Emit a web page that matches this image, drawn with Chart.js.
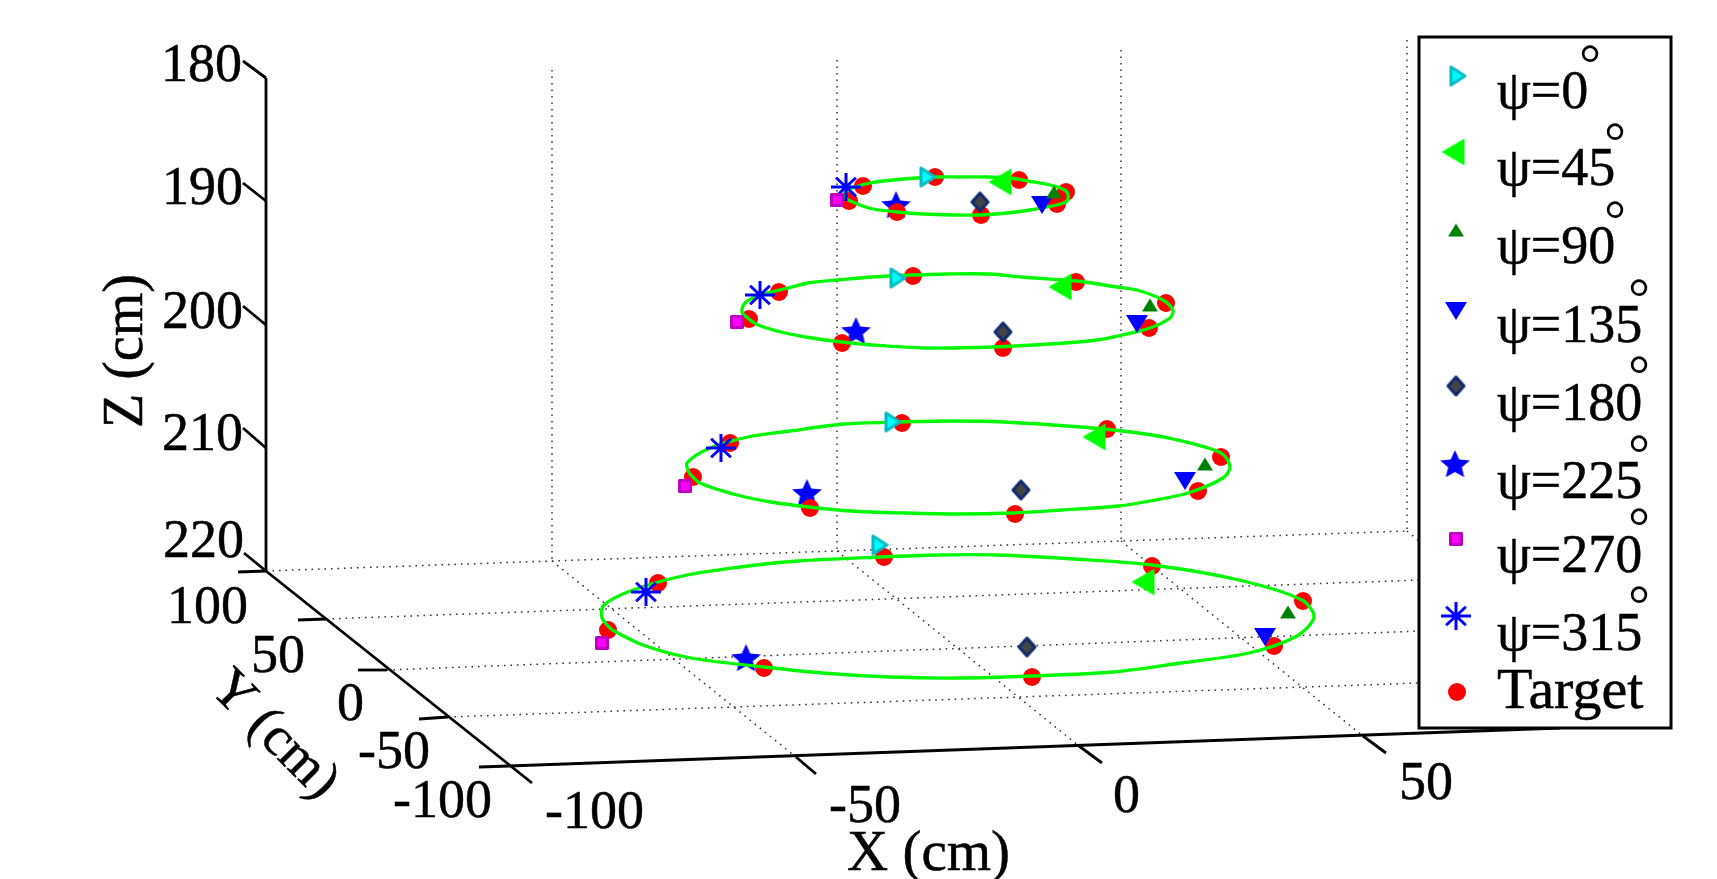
<!DOCTYPE html>
<html>
<head>
<meta charset="utf-8">
<title>Target positions</title>
<style>
  html, body { margin: 0; padding: 0; background: #fff; }
  canvas { display: block; }
</style>
<script src="https://cdn.jsdelivr.net/npm/chart.js@4"></script>
</head>
<body>
<canvas id="my" width="1717" height="879"></canvas>
<script>
// the figure is a 3D view flattened to a plane, so everything is read as [h, v] on that plane
const psi0   = [[928,177],[898,278],[893,422],[880,545]];
const psi45  = [[1000,182],[1060,287],[1094,437],[1143,582]];
const psi90  = [[1054,192],[1150,305],[1205,464],[1288,612]];
const psi135 = [[1042,205],[1137,324],[1185,481],[1265,637]];
const psi180 = [[980,202],[1003,332],[1021,490],[1027,647]];
const psi225 = [[896,205],[856,331],[807,493],[746,658]];
const psi270 = [[837,200],[737,322],[685,486],[602,643]];
const psi315 = [[846,187],[760,295],[721,448],[646,592]];
const target = [
  [863,186],[849,201],[897,212],[935,177],[981,215],[1019,180],[1066,192],[1057,204],
  [779,292],[749,319],[842,343],[913,276],[1003,348],[1076,282],[1166,303],[1149,328],
  [730,443],[693,477],[810,508],[902,423],[1015,514],[1107,429],[1221,457],[1198,491],
  [658,583],[608,630],[764,668],[884,557],[1032,677],[1152,566],[1303,601],[1274,646]
];

const ring190 = [[848,200],[860,205],[873,209],[897,212],[923,214],[953,215],[980,215],[1007,213],[1030,210],[1057,205],[1067,201],[1068,195],[1065,190],[1050,185],[1028,181],[1010,178],[987,177],[960,177],[937,177],[917,178],[893,180],[870,183],[855,187],[845,192],[845,197],[848,200]];
const ring200 = [[750,320],[758,325],[785,333],[812,338],[842,342],[872,345],[925,348],[993,347],[1050,344],[1097,340],[1122,335],[1150,328],[1170,318],[1173,310],[1163,300],[1137,290],[1117,287],[1077,281],[1020,277],[990,274],[947,274],[913,275],[872,277],[838,280],[808,283],[788,288],[760,295],[745,303],[742,312],[750,320]];
const ring210 = [[689,473],[700,483],[737,495],[771,502],[809,507],[851,511],[905,513],[959,514],[1012,513],[1062,510],[1119,506],[1150,501],[1188,493],[1223,478],[1230,467],[1221,453],[1173,439],[1131,432],[1081,427],[1004,422],[951,421],[897,422],[844,424],[790,431],[748,437],[710,448],[687,463],[689,473]];
const ring220 = [[612,630],[643,645],[691,658],[764,667],[822,673],[890,677],[958,678],[1031,676],[1113,672],[1181,663],[1249,653],[1297,636],[1314,617],[1302,600],[1239,580],[1152,565],[1074,559],[997,555],[939,555],[881,557],[798,561],[740,567],[687,575],[633,590],[604,605],[602,618],[612,630]];

const axisLines = [
  [[266,78],[266,571]], [[266,571],[532,783]], [[509,766],[1560,728]],
  [[243,61],[266,78]], [[243,183],[266,201]], [[243,306],[266,325]], [[243,428],[266,448]], [[244,553],[266,571]],
  [[238,572],[266,571]], [[298,620],[326,619]], [[358,670],[387,670]], [[419,719],[448,717]], [[479,767],[509,766]],
  [[796,757],[816,774]], [[1079,746],[1102,763]], [[1363,736],[1386,753]]
];
const gridLines = [
  [[552,70],[552,561]], [[837,60],[837,551]], [[1121,50],[1121,541]], [[1407,40],[1407,531]],
  [[266,571],[1407,531]], [[326,619],[1419,580]], [[387,670],[1419,631]], [[448,717],[1419,683]],
  [[552,561],[796,757]], [[837,551],[1079,746]], [[1121,541],[1363,736]], [[1407,531],[1419,541]]
];

const zTicks = ['180','190','200','210','220'];
const yTicks = ['100','50','0','-50','-100'];
const xTicks = ['-100','-50','0','50'];
const zTickAt = [[242,81],[243,204],[243,328],[243,450],[244,557]];
const yTickAt = [[248,623],[305,672],[364,720],[430,768],[492,817]];
const xTickAt = [[644,828],[901,822],[1140,812],[1453,799]];

const legendNames = ['ψ=0','ψ=45','ψ=90','ψ=135','ψ=180','ψ=225','ψ=270','ψ=315','Target'];
const legendRows = [108,185,263,342,420,498,572,650,708];
const legendKeys = [[1458,76],[1453,152],[1456,230],[1456,311],[1456,386],[1455,464],[1456,539],[1456,616],[1457,692]];
const degreeAt = [[1590,53],[1615,131],[1615,209],[1639,287],[1639,364],[1639,443],[1639,516],[1639,594]];

const serif = "'Liberation Serif', 'Times New Roman', serif";

// marker glyphs, the matlab ones are not the same shapes as chart.js has
function marker(w, h, fill, stroke, lw, pts) {
  const pad = 2;
  const c = document.createElement('canvas');
  c.width = w + pad * 2;
  c.height = h + pad * 2;
  const g = c.getContext('2d');
  g.beginPath();
  pts.forEach(function(p, i) {
    const px = pad + lw / 2 + p[0] * (w - lw);
    const py = pad + lw / 2 + p[1] * (h - lw);
    if (i == 0) g.moveTo(px, py); else g.lineTo(px, py);
  });
  g.closePath();
  g.fillStyle = fill;
  g.fill();
  if (stroke) {
    g.lineWidth = lw;
    g.lineJoin = 'round';
    g.strokeStyle = stroke;
    g.stroke();
  }
  return c;
}

function starPts() {
  const pts = [];
  for (let i = 0; i < 10; i++) {
    const r = i % 2 ? 0.25 : 0.54;
    const a = -Math.PI / 2 + i * Math.PI / 5;
    pts.push([0.5 + r * Math.cos(a), 0.54 + r * Math.sin(a)]);
  }
  return pts;
}

function asterisk(w, h, color, lw) {
  const c = document.createElement('canvas');
  c.width = w;
  c.height = h;
  const g = c.getContext('2d');
  g.strokeStyle = color;
  g.lineWidth = lw;
  g.beginPath();
  g.moveTo(w / 2, 0); g.lineTo(w / 2, h);
  g.moveTo(0, h / 2); g.lineTo(w, h / 2);
  g.moveTo(w * 0.17, h * 0.17); g.lineTo(w * 0.83, h * 0.83);
  g.moveTo(w * 0.83, h * 0.17); g.lineTo(w * 0.17, h * 0.83);
  g.stroke();
  return c;
}

const glyphs = [
  marker(17, 21, '#00ffff', '#00bcc4', 3, [[0,0],[1,0.5],[0,1]]),
  marker(23, 27, '#00ff00', null, 0, [[1,0],[0,0.5],[1,1]]),
  marker(16, 13, '#008000', null, 0, [[0.5,0],[1,1],[0,1]]),
  marker(22, 18, '#0000ff', null, 0, [[0,0],[1,0],[0.5,1]]),
  marker(19, 21, '#444444', '#0f2a6e', 3, [[0.5,0],[1,0.5],[0.5,1],[0,0.5]]),
  marker(29, 28, '#0000ff', null, 0, starPts()),
  marker(14, 14, '#ff00ff', '#c000c0', 3, [[0,0],[1,0],[1,1],[0,1]]),
  asterisk(30, 28, '#0000ff', 3)
];

function pts(list) {
  return list.map(function(p) { return {x: p[0], y: p[1]}; });
}

function lineSet(list, color, width, dash, order, tension) {
  return {
    data: pts(list), showLine: true, borderColor: color, borderWidth: width,
    borderDash: dash, pointRadius: 0, tension: tension || 0, order: order, clip: false
  };
}

function markSet(name, list, glyph, order) {
  return {
    label: name, data: pts(list), showLine: false, pointStyle: glyph,
    pointRadius: 10, order: order, clip: false
  };
}

const datasets = [];
gridLines.forEach(function(l) { datasets.push(lineSet(l, '#333', 1.5, [1.6, 4.9], 100)); });
axisLines.forEach(function(l) { datasets.push(lineSet(l, '#000', 2.8, [], 90)); });
datasets.push(markSet('ψ=225', psi225, glyphs[5], 60));
datasets.push({
  label: 'Target', data: pts(target), showLine: false, pointStyle: 'circle', pointRadius: 9,
  backgroundColor: '#ff0000', borderColor: '#ff0000', borderWidth: 0, order: 50, clip: false
});
[ring190, ring200, ring210, ring220].forEach(function(r) {
  datasets.push(lineSet(r, '#00f800', 3.3, [], 40, 0.3));
});
datasets.push(markSet('ψ=0', psi0, glyphs[0], 30));
datasets.push(markSet('ψ=45', psi45, glyphs[1], 30));
datasets.push(markSet('ψ=90', psi90, glyphs[2], 30));
datasets.push(markSet('ψ=135', psi135, glyphs[3], 30));
datasets.push(markSet('ψ=180', psi180, glyphs[4], 30));
datasets.push(markSet('ψ=270', psi270, glyphs[6], 30));
datasets.push(markSet('ψ=315', psi315, glyphs[7], 30));

const textPlugin = {
  id: 'axisText',
  afterDatasetsDraw: function(chart) {
    const c = chart.ctx;
    const sx = chart.scales.x;
    const sy = chart.scales.y;
    const X = function(v) { return sx.getPixelForValue(v); };
    const Y = function(v) { return sy.getPixelForValue(v); };
    // reference text is a bit heavier than plain Liberation Serif
    const put = function(t, px, py) {
      c.fillText(t, px, py);
      c.strokeText(t, px, py);
    };

    c.save();
    c.fillStyle = '#000';
    c.strokeStyle = '#000';
    c.lineWidth = 0.5;
    c.font = '54px ' + serif;
    c.textBaseline = 'alphabetic';
    c.textAlign = 'right';
    zTicks.forEach(function(t, i) { put(t, X(zTickAt[i][0]), Y(zTickAt[i][1])); });
    yTicks.forEach(function(t, i) { put(t, X(yTickAt[i][0]), Y(yTickAt[i][1])); });
    xTicks.forEach(function(t, i) { put(t, X(xTickAt[i][0]), Y(xTickAt[i][1])); });

    c.textAlign = 'left';
    c.font = '57px ' + serif;
    put('X (cm)', X(847), Y(870));
    c.font = '56px ' + serif;
    c.save();
    c.translate(X(142), Y(428));
    c.rotate(-Math.PI / 2);
    put('Z (cm)', 0, 0);
    c.restore();
    c.font = '55px ' + serif;
    c.save();
    c.translate(X(208), Y(690));
    c.rotate(Math.PI / 4);
    put('Y (cm)', 0, 0);
    c.restore();

    // legend box sits on top of the x axis
    c.fillStyle = '#fff';
    c.fillRect(X(1419), Y(37), 252, 691);
    c.lineWidth = 3;
    c.strokeRect(X(1419), Y(37), 252, 691);
    c.lineWidth = 0.5;
    c.fillStyle = '#000';
    legendNames.forEach(function(name, i) {
      c.font = (name == 'Target' ? '58px ' : '54px ') + serif;
      put(name, X(1497), Y(legendRows[i]));
      const k = legendKeys[i];
      if (i < glyphs.length) {
        c.drawImage(glyphs[i], X(k[0]) - glyphs[i].width / 2, Y(k[1]) - glyphs[i].height / 2);
      } else {
        c.fillStyle = '#ff0000';
        c.beginPath();
        c.arc(X(k[0]), Y(k[1]), 9, 0, Math.PI * 2);
        c.fill();
        c.fillStyle = '#000';
      }
    });
    c.textAlign = 'center';
    c.font = '54px ' + serif;
    degreeAt.forEach(function(d) { c.fillText('°', X(d[0]), Y(d[1]) + 29); });
    c.restore();
  }
};

new Chart(document.getElementById('my'), {
  type: 'scatter',
  data: { datasets: datasets },
  plugins: [textPlugin],
  options: {
    responsive: false,
    animation: false,
    events: [],
    layout: { padding: 0, autoPadding: false },
    plugins: { legend: { display: false }, tooltip: { enabled: false } },
    scales: {
      x: { type: 'linear', min: 0, max: 1717, display: false },
      y: { type: 'linear', min: 0, max: 879, reverse: true, display: false }
    }
  }
});
</script>
</body>
</html>
